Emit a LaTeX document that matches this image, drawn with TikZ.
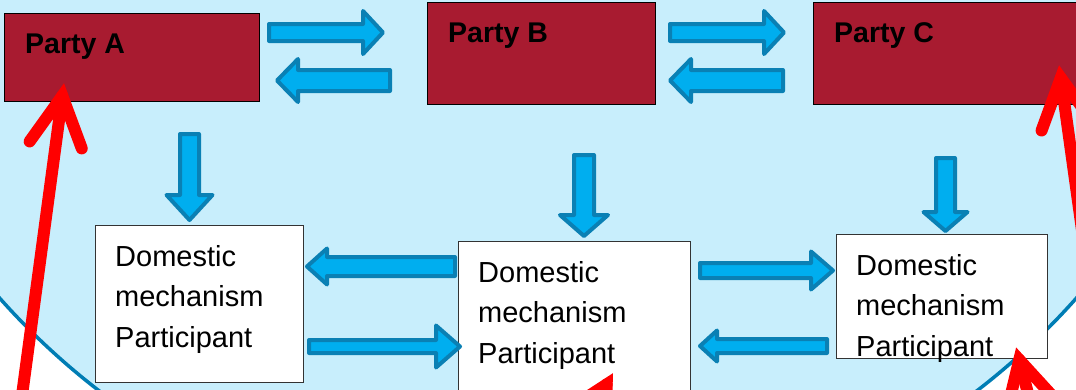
\documentclass[tikz,border=0pt]{standalone}
\usepackage{fontspec}
\setmainfont{Liberation Sans}
\usetikzlibrary{calc}
\definecolor{bgblue}{RGB}{200,238,252}
\definecolor{ringblue}{RGB}{0,125,180}
\definecolor{arrowfill}{RGB}{0,174,239}
\definecolor{arrowline}{RGB}{10,128,180}
\definecolor{partyred}{RGB}{168,27,48}
\tikzset{
  partybox/.style={draw=black, line width=0.8pt, fill=partyred, inner sep=0pt, anchor=north west},
  dmbox/.style={draw=black!80, line width=1pt, fill=white, inner sep=0pt, anchor=north west},
  partylabel/.style={font=\fontsize{28.5}{30}\selectfont\bfseries, inner sep=0pt, anchor=base west},
  dmlabel/.style={font=\fontsize{29}{40.5}\selectfont, align=left, inner sep=0pt, anchor=north west},
  blockarrow/.style={draw=arrowline, fill=arrowfill, line width=4pt, line join=round},
  redline/.style={draw=red, line width=12pt, line cap=round},
}
\newcommand\BlockArrow[5]{%
  \coordinate (bahb) at ($(#2)!#5!(#1)$);
  \draw[blockarrow] ($(#1)!#3!90:(#2)$) -- ($(bahb)!#3!90:(#2)$) -- ($(bahb)!#4!90:(#2)$) -- (#2)
    -- ($(bahb)!#4!-90:(#2)$) -- ($(bahb)!#3!-90:(#2)$) -- ($(#1)!#3!-90:(#2)$) -- cycle;}
\newcommand\RedArrow[2]{%
  \draw[redline] (#1) -- (#2);
  \draw[redline, line join=miter] ($(#2)!56pt!28:(#1)$) -- (#2) -- ($(#2)!56pt!-28:(#1)$);}
\begin{document}
\begin{tikzpicture}[x=1pt, y=-1pt]
\useasboundingbox (0,0) rectangle (1076,389);
\clip (0,0) rectangle (1076,389);
\fill[white] (0,0) rectangle (1076,389);
\draw[fill=bgblue, draw=ringblue, line width=3.5pt] (538,-180) circle (720pt);

% party boxes
\node[partybox, minimum width=255pt, minimum height=88pt] (pA) at (4,13) {};
\node[partybox, minimum width=228pt, minimum height=102pt] (pB) at (427,2) {};
\node[partybox, minimum width=300pt, minimum height=102pt] (pC) at (813,2) {};
\node[partylabel] (lA) at (25,53) {Party A};
\node[partylabel] (lB) at (448,42) {Party B};
\node[partylabel] (lC) at (834,42) {Party C};

% domestic mechanism boxes
\node[dmbox, minimum width=208pt, minimum height=157pt] (w1) at (95,225) {};
\node[dmbox, minimum width=232pt, minimum height=170pt] (w2) at (458,241) {};
\node[dmbox, minimum width=211pt, minimum height=124pt] (w3) at (836,234) {};
\node[dmlabel] (t1) at (115,245) {Domestic\\mechanism\\Participant};
\node[dmlabel] (t2) at (478,261) {Domestic\\mechanism\\Participant};
\node[dmlabel] (t3) at (856,254) {Domestic\\mechanism\\Participant};

% block arrow end points
\coordinate (ab1) at (269,32.5);  \coordinate (ab2) at (383,32.5);
\coordinate (ba1) at (390,80.5);  \coordinate (ba2) at (277,80.5);
\coordinate (bc1) at (670,32.5);  \coordinate (bc2) at (784,32.5);
\coordinate (cb1) at (783,80.5);  \coordinate (cb2) at (670,80.5);
\coordinate (av1) at (189.5,134); \coordinate (av2) at (189.5,220);
\coordinate (bv1) at (584,155);   \coordinate (bv2) at (584,236);
\coordinate (cv1) at (945.5,158); \coordinate (cv2) at (945.5,231);
\coordinate (wa1) at (455,266.5); \coordinate (wa2) at (307,266.5);
\coordinate (wb1) at (309,346.5); \coordinate (wb2) at (460,346.5);
\coordinate (wc1) at (700,270.5); \coordinate (wc2) at (833,270.5);
\coordinate (wd1) at (827,346);   \coordinate (wd2) at (700,346);

\BlockArrow{ab1}{ab2}{8.5pt}{21.5pt}{20pt}
\BlockArrow{ba1}{ba2}{10.5pt}{21.5pt}{21pt}
\BlockArrow{bc1}{bc2}{8.5pt}{21.5pt}{20pt}
\BlockArrow{cb1}{cb2}{10.5pt}{21.5pt}{21pt}
\BlockArrow{av1}{av2}{9.5pt}{23pt}{25pt}
\BlockArrow{bv1}{bv2}{10pt}{24pt}{21pt}
\BlockArrow{cv1}{cv2}{9.5pt}{22pt}{19pt}
\BlockArrow{wa1}{wa2}{9.5pt}{18pt}{20pt}
\BlockArrow{wb1}{wb2}{6.5pt}{21pt}{24pt}
\BlockArrow{wc1}{wc2}{7.5pt}{19pt}{22pt}
\BlockArrow{wd1}{wd2}{7pt}{15.5pt}{17pt}

% red arrows
\coordinate (rs1) at (9,492);      \coordinate (rt1) at (62.3,95.9);
\coordinate (rs2) at (1116,474);   \coordinate (rt2) at (1060.8,77.9);
\coordinate (rs3) at (510,559);    \coordinate (rt3) at (606.7,384.4);
\coordinate (rs4) at (1069,553);   \coordinate (rt4) at (1019.3,359.8);
\RedArrow{rs1}{rt1}
\RedArrow{rs2}{rt2}
\RedArrow{rs3}{rt3}
\RedArrow{rs4}{rt4}
\end{tikzpicture}
\end{document}
